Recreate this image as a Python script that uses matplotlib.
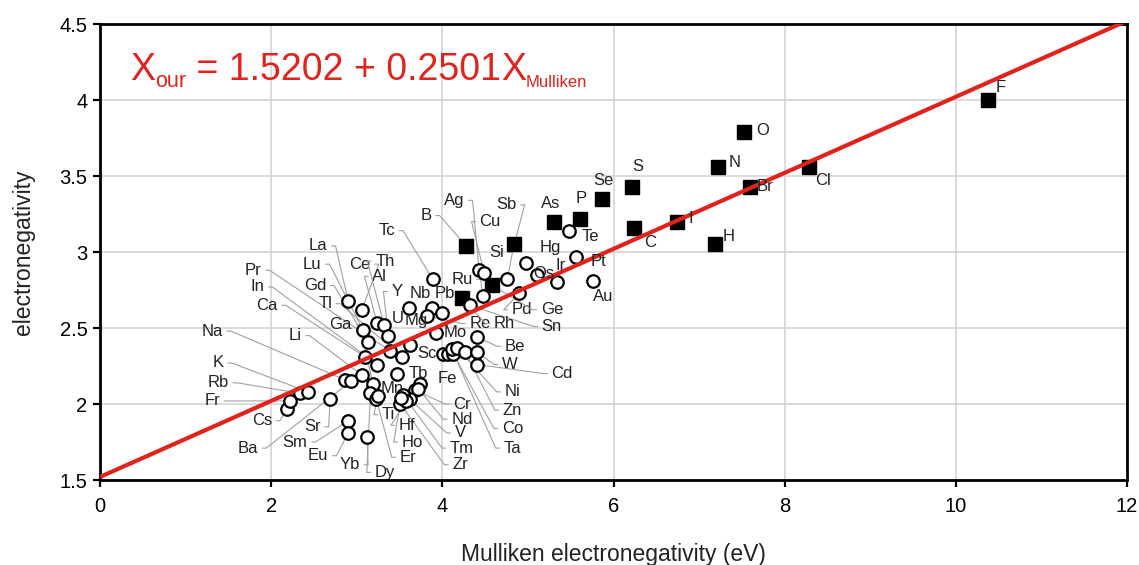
import matplotlib
matplotlib.use('Agg')
import matplotlib.pyplot as plt
import matplotlib.transforms as mtransforms

plt.rcParams['font.family'] = ['Liberation Sans', 'DejaVu Sans']

RED = '#e1231e'

# regression of our scale on the Mulliken scale
intercept = 1.5202
slope = 0.2501

# metals (open circles): Mulliken electronegativity (eV) and our electronegativity
metals = ['Cs', 'Fr', 'Rb', 'K', 'Na', 'Ba', 'Sr', 'Sm', 'Eu', 'Yb',
          'La', 'Ce', 'Lu', 'Al', 'Th', 'Y', 'Gd', 'Pr', 'Ca', 'In',
          'Tl', 'Li', 'Ga', 'Mg', 'Dy', 'Er', 'Ti', 'Mn', 'Tb', 'Cr',
          'Nd', 'V', 'Tm', 'Zr', 'Hf', 'Ho', 'Sc', 'Fe', 'Co', 'Ta',
          'Ni', 'Zn', 'Be', 'W', 'Cd', 'Mo', 'U', 'Nb', 'Re', 'Pb',
          'Sn', 'Ru', 'Tc', 'Ag', 'Cu', 'Si', 'Pd', 'Hg', 'Os', 'Ir',
          'Pt', 'Au', 'Te']
metal_mull = [2.19, 2.22, 2.34, 2.43, 2.86, 2.93, 2.69, 2.90, 2.90, 3.12,
              2.90, 3.06, 3.07, 3.24, 3.32, 3.37, 3.13, 3.39, 3.10, 3.24,
              3.53, 3.06, 3.19, 3.62, 3.16, 3.23, 3.25, 3.47, 3.74, 3.68,
              3.72, 3.62, 3.54, 3.51, 3.58, 3.52, 4.01, 4.07, 4.13, 4.11,
              4.17, 4.27, 4.41, 4.41, 4.41, 3.92, 3.61, 3.88, 3.82, 4.00,
              4.32, 4.47, 3.89, 4.43, 4.49, 4.76, 4.90, 4.98, 5.11, 5.34,
              5.56, 5.76, 5.48]
metal_chi = [1.97, 2.02, 2.07, 2.08, 2.16, 2.15, 2.03, 1.89, 1.81, 1.78,
             2.68, 2.62, 2.49, 2.53, 2.52, 2.45, 2.41, 2.35, 2.31, 2.26,
             2.31, 2.19, 2.13, 2.39, 2.07, 2.03, 2.05, 2.20, 2.13, 2.09,
             2.10, 2.03, 2.06, 2.00, 2.02, 2.04, 2.33, 2.33, 2.33, 2.36,
             2.37, 2.34, 2.44, 2.34, 2.26, 2.47, 2.63, 2.63, 2.58, 2.60,
             2.65, 2.71, 2.82, 2.88, 2.86, 2.82, 2.73, 2.93, 2.85, 2.80,
             2.97, 2.81, 3.14]

# non-metals (filled squares)
nonmetals = ['F', 'O', 'N', 'Cl', 'S', 'Br', 'Se', 'P', 'As', 'I',
             'C', 'H', 'Sb', 'B', 'Ge', 'Rh']
nonmetal_mull = [10.38, 7.53, 7.22, 8.28, 6.22, 7.59, 5.87, 5.61, 5.31, 6.74,
                 6.24, 7.18, 4.84, 4.28, 4.58, 4.23]
nonmetal_chi = [4.00, 3.79, 3.56, 3.56, 3.43, 3.43, 3.35, 3.22, 3.20, 3.20,
                3.16, 3.05, 3.05, 3.04, 2.78, 2.70]

# where each element name is written
label_pos = {
    'La': (2.55, 3.04), 'Lu': (2.48, 2.92), 'Pr': (1.79, 2.88), 'In': (1.84, 2.77),
    'Gd': (2.51, 2.78), 'Ce': (3.04, 2.92), 'Th': (3.33, 2.94), 'Al': (3.27, 2.84),
    'Y': (3.47, 2.74), 'Tc': (3.35, 3.14), 'Ca': (1.95, 2.65), 'Tl': (2.63, 2.66),
    'Ga': (2.81, 2.52), 'Li': (2.28, 2.45), 'Na': (1.31, 2.48), 'K': (1.38, 2.27),
    'Rb': (1.38, 2.14), 'Fr': (1.31, 2.02), 'Cs': (1.89, 1.89), 'Ba': (1.73, 1.71),
    'Sr': (2.48, 1.85), 'Sm': (2.28, 1.75), 'Eu': (2.55, 1.66), 'Yb': (2.92, 1.60),
    'Dy': (3.33, 1.55), 'Er': (3.60, 1.65), 'Ho': (3.65, 1.75), 'Hf': (3.59, 1.86),
    'Ti': (3.37, 1.93), 'Mn': (3.41, 2.10), 'Tb': (3.72, 2.20), 'Fe': (4.06, 2.17),
    'Cr': (4.23, 2.00), 'Nd': (4.23, 1.90), 'V': (4.21, 1.81), 'Tm': (4.23, 1.71),
    'Zr': (4.21, 1.60), 'Ni': (4.82, 2.08), 'Zn': (4.82, 1.96), 'Co': (4.82, 1.84),
    'Ta': (4.82, 1.71), 'Cd': (5.40, 2.20), 'W': (4.79, 2.26), 'Be': (4.85, 2.38),
    'Sc': (3.82, 2.33), 'Mo': (4.15, 2.47), 'Re': (4.44, 2.53), 'Rh': (4.72, 2.53),
    'U': (3.48, 2.56), 'Mg': (3.69, 2.55), 'Nb': (3.74, 2.73), 'Pb': (4.03, 2.73),
    'Ru': (4.23, 2.82), 'Ag': (4.14, 3.34), 'B': (3.81, 3.24), 'Cu': (4.56, 3.20),
    'Sb': (4.75, 3.31), 'Si': (4.64, 3.00), 'Pd': (4.93, 2.62), 'Ge': (5.28, 2.62),
    'Sn': (5.28, 2.51), 'Hg': (5.26, 3.03), 'Os': (5.18, 2.86), 'Ir': (5.38, 2.91),
    'Pt': (5.82, 2.94), 'Au': (5.88, 2.71), 'Te': (5.73, 3.10), 'As': (5.27, 3.32),
    'P': (5.62, 3.35), 'Se': (5.88, 3.47), 'S': (6.28, 3.56), 'C': (6.43, 3.06),
    'I': (6.90, 3.22), 'H': (7.34, 3.10), 'Br': (7.77, 3.43), 'N': (7.42, 3.59),
    'O': (7.74, 3.80), 'Cl': (8.45, 3.47), 'F': (10.52, 4.08),
}
# names written right next to their marker, without a leader line
no_leader = {'F', 'O', 'N', 'Cl', 'S', 'Br', 'Se', 'P', 'As', 'I', 'C', 'H',
             'Te', 'Pt', 'Au', 'Hg', 'Os', 'Ir', 'Mn', 'Tb', 'Sc', 'Mo',
             'U', 'Mg', 'Nb', 'Pb', 'Fe'}

fig = plt.figure(figsize=(11.39, 5.65), dpi=100)
ax = fig.add_axes([0.0878, 0.1504, 0.9017, 0.8071])

ax.set_xlim(0, 12)
ax.set_ylim(1.5, 4.5)
ax.set_xticks(range(0, 13, 2))
ax.set_yticks([1.5, 2, 2.5, 3, 3.5, 4, 4.5])
ax.set_yticklabels(['1.5', '2', '2.5', '3', '3.5', '4', '4.5'])
ax.grid(True, color='#d4d4d4', linewidth=1.2)
ax.set_axisbelow(True)
for sp in ax.spines.values():
    sp.set_linewidth(2)
    sp.set_color('black')
ax.tick_params(direction='out', length=5, width=1.6, labelsize=14.5, colors='black', pad=4)
ax.tick_params(axis='x', pad=7)

ax.set_xlabel('Mulliken electronegativity (eV)', fontsize=16.5, color='#222222', labelpad=20)
ax.set_ylabel('electronegativity', fontsize=16.5, color='#222222', labelpad=18)

# filled squares first so the open circles sit on top of them
ax.plot(nonmetal_mull, nonmetal_chi, 's', ms=9.5, color='black', zorder=3)
ax.plot(metal_mull, metal_chi, 'o', ms=9, mfc='white', mec='black', mew=1.6, zorder=4)

xs = [0, 12]
ax.plot(xs, [intercept + slope * x for x in xs], color=RED, lw=3, zorder=5,
        solid_capstyle='butt')

# equation of the fit, written piece by piece so the subscripts can be small
renderer = fig.canvas.get_renderer()
pieces = [('Χ', 27, 0), ('our', 15.5, -7),
          (' = %.4f + %.4f' % (intercept, slope), 27, 0),
          ('Χ', 27, 0), ('Mulliken', 12, -7)]
x_off = 0
for s, size, dy in pieces:
    tr = mtransforms.offset_copy(ax.transData, fig=fig, x=x_off, y=dy, units='dots')
    t = ax.text(0.35, 4.13, s, fontsize=size, color=RED, va='baseline', ha='left',
                transform=tr, zorder=6)
    x_off += t.get_window_extent(renderer).width

points = {}
for n, x, y in zip(metals, metal_mull, metal_chi):
    points[n] = (x, y)
for n, x, y in zip(nonmetals, nonmetal_mull, nonmetal_chi):
    points[n] = (x, y)

for n, (x, y) in points.items():
    lx, ly = label_pos[n]
    if n in no_leader:
        ax.text(lx, ly, n, fontsize=12, ha='center', va='center', color='#222222', zorder=7)
        continue
    right = x > lx
    ax.annotate(n, xy=(x, y), xytext=(lx, ly), fontsize=12, ha='center', va='center',
                color='#222222', zorder=2,
                arrowprops=dict(arrowstyle='-', color='#a0a0a0', lw=0.8,
                                shrinkA=1, shrinkB=5,
                                relpos=(1, 0.5) if right else (0, 0.5),
                                connectionstyle='arc,angleA=%d,armA=8,angleB=0,armB=0,rad=0'
                                % (0 if right else 180)))

fig.savefig('out.png', dpi=100)
